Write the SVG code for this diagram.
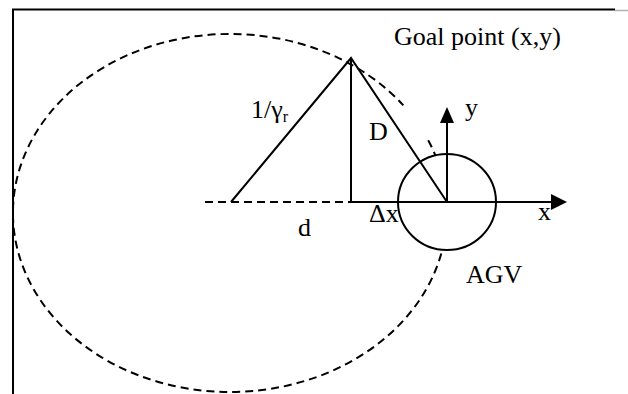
<svg xmlns="http://www.w3.org/2000/svg" width="628" height="394" viewBox="0 0 628 394">
<style>
.ln{fill:none;stroke:#000;stroke-width:2}
.dash{fill:none;stroke:#000;stroke-width:2;stroke-dasharray:8 5}
.t{font-family:"Liberation Serif","Times New Roman",serif;font-size:26px;fill:#000}
.ts{font-family:"Liberation Serif","Times New Roman",serif;font-size:16px;fill:#000}
.ah{fill:#000;stroke:none}
</style>
<rect width="628" height="394" fill="#fff"/>
<g id="frame">
<path class="ln" d="M13,394 V9.5 H615"/>
<path d="M615,10.5 H628" stroke="#b0b0b0" stroke-width="1.5" fill="none"/>
</g>
<g id="path-ellipse">
<path class="dash" d="M428.2,140.2 A217,179 0 1 1 403.3,105.3"/>
</g>
<g id="agv">
<ellipse cx="447" cy="202" rx="49" ry="48" fill="#fff" stroke="#000" stroke-width="2"/>
<text class="t" x="466" y="283">AGV</text>
</g>
<g id="connectors">
<path class="dash" d="M205,202 H351"/>
<path class="ln" d="M231,202 L351,58 L447,202"/>
<path class="ln" d="M351,58 V202 H552"/>
<path class="ln" d="M447,202 V122"/>
<polygon class="ah" points="567,202 551,194 551,210"/>
<polygon class="ah" points="447,107 440,123 454,123"/>
</g>
<g id="labels">
<text class="t" x="394" y="45">Goal point (x,y)</text>
<text class="t" x="251" y="118">1/γ<tspan class="ts" dy="4">r</tspan></text>
<text class="t" x="369" y="140">D</text>
<text class="t" x="298" y="236">d</text>
<text class="t" x="369" y="222">Δx</text>
<text class="t" x="538" y="220">x</text>
<text class="t" x="465" y="116">y</text>
</g>
</svg>
